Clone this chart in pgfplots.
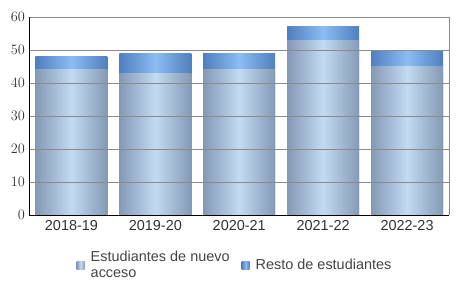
\documentclass[border=0pt]{standalone}
\usepackage{pgfplots}
\usepackage{pgfplotstable}
\pgfplotsset{compat=1.18}
\usepackage{fontspec}
\setmainfont{Liberation Sans}
\definecolor{naD}{HTML}{8499B5}
\definecolor{naL}{HTML}{C2DAF2}
\definecolor{reD}{HTML}{4F7FBF}
\definecolor{reL}{HTML}{8CBCF2}
\definecolor{txt}{HTML}{333333}
\definecolor{legtxt}{HTML}{444444}
\definecolor{gridc}{HTML}{8A8A8A}
\pgfplotstableread{
x new rest
0 44 4
1 43 6
2 44 5
3 53 4
4 45 5
}\data
\begin{document}
\begin{tikzpicture}[x=1bp,y=1bp]
\useasboundingbox (-29.5bp,-90bp) rectangle (426.5bp,215bp);
\begin{axis}[
  at={(0bp,0bp)}, anchor=south west,
  scale only axis, width=419.5bp, height=198bp,
  xmin=-0.5, xmax=4.5, ymin=0, ymax=60,
  ybar, bar width=72bp, bar shift=0pt,
  xtick={0,1,2,3,4},
  xticklabels={2018-19,2019-20,2020-21,2021-22,2022-23},
  ytick={0,10,20,30,40,50,60},
  axis x line*=bottom, axis y line*=left,
  axis line style={black, line width=0.8pt, -},
  x tick style={draw=none},
  y tick style={gridc, line width=0.6pt},
  major tick length=3bp,
  ymajorgrids, grid style={gridc, line width=0.6pt},
  axis on top,
  tick label style={font=\fontsize{14.5}{16}\selectfont, text=txt},
  xticklabel style={yshift=1bp},
  yticklabel style={xshift=-1bp},
  legend style={at={(0.49,-0.253)}, anchor=center, draw=none, fill=none,
    legend columns=2, font=\fontsize{14.5}{16}\selectfont, text=legtxt,
    /tikz/every even column/.append style={column sep=10bp},
    cells={align=left}},
  legend cell align=left,
  legend image code/.code={\path[#1] (0bp,-4.5bp) rectangle (8bp,3.5bp); \path (0bp,0bp) -- (12bp,0bp);},
  NA/.style={draw=none, left color=naD, right color=naD, middle color=naL},
  RE/.style={draw=none, left color=reD, right color=reD, middle color=reL},
]
\addlegendimage{NA}
\addlegendimage{RE}
\pgfplotsinvokeforeach{0,1,2,3,4}{
  \addplot[RE, forget plot, restrict x to domain=#1:#1]
    table[x=x, y expr=\thisrow{new}+\thisrow{rest}] {\data};
  \addplot[NA, forget plot, restrict x to domain=#1:#1]
    table[x=x, y=new] {\data};
}
\legend{Estudiantes de nuevo\\acceso, Resto de estudiantes}
\end{axis}
\draw[gridc, line width=0.6pt] (419.5bp,0bp) -- (419.5bp,198bp);
\end{tikzpicture}
\end{document}
